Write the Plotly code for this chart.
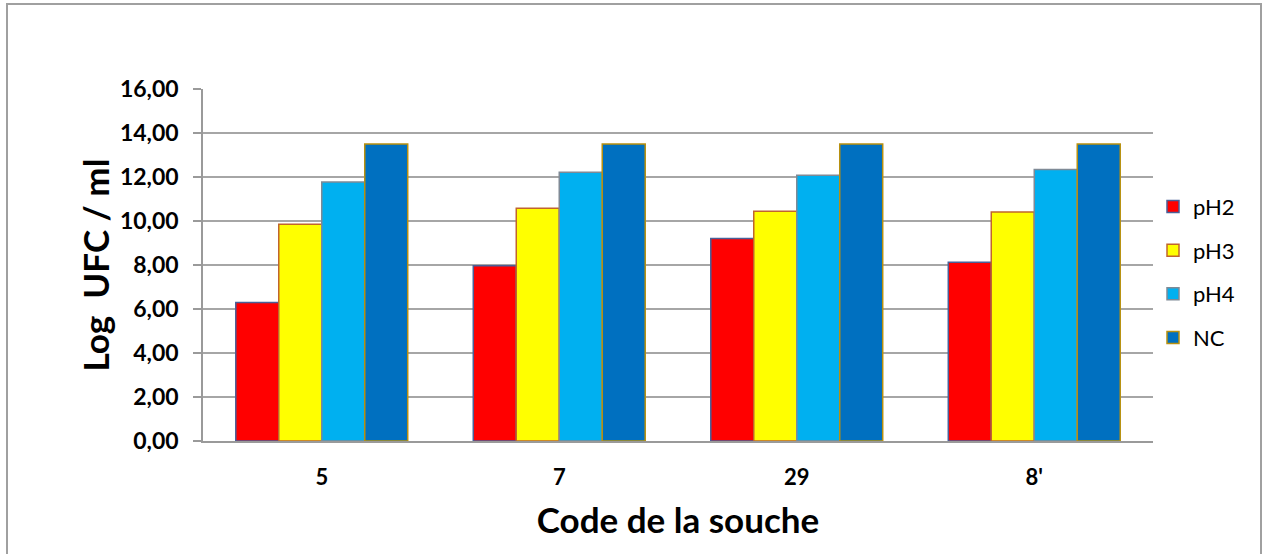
import plotly.graph_objects as go

# Strains and survival (log CFU/ml) at each pH condition
souches = ["5", "7", "29", "8'"]
ph2 = [6.29, 7.97, 9.21, 8.13]
ph3 = [9.85, 10.58, 10.44, 10.41]
ph4 = [11.77, 12.22, 12.08, 12.34]
nc = [13.50, 13.50, 13.50, 13.50]
y_ticks = [0, 2, 4, 6, 8, 10, 12, 14, 16]

series = [
    ("pH2", ph2, "#FF0000", "#4A5F97"),
    ("pH3", ph3, "#FFFF00", "#C0652D"),
    ("pH4", ph4, "#00B0F0", "#7F8A96"),
    ("NC", nc, "#0070C0", "#B8900F"),
]

W, H = 1263, 554
L, R, T, B = 203, 110, 89, 113

fig = go.Figure()
for i, (name, vals, fill, edge) in enumerate(series):
    fig.add_trace(go.Bar(
        name=name, x=souches, y=vals,
        marker=dict(color=fill, line=dict(color=edge, width=1.5)),
        legendgroup=f"g{i}",
    ))

font_main = "Lato, 'Open Sans', Arial, sans-serif"

fig.update_layout(
    width=W, height=H,
    margin=dict(l=L, r=R, t=T, b=B, autoexpand=False),
    paper_bgcolor="white", plot_bgcolor="white",
    barmode="group", bargap=0.276, bargroupgap=0,
    separators=", ",
    font=dict(family=font_main, color="black"),
    showlegend=True,
    legend=dict(
        x=1.0, xanchor="left", y=0.725, yanchor="top",
        font=dict(size=22, family=font_main, color="black"),
        tracegroupgap=12, itemwidth=30,
        bgcolor="rgba(0,0,0,0)",
    ),
    xaxis=dict(
        showline=True, linecolor="#9A9A9A", linewidth=1.5,
        tickfont=dict(size=22, family=font_main, color="black", weight="bold"),
        ticks="", ticklabelstandoff=16,
        title=dict(text="<b>Code de la souche</b>", font=dict(size=35, family=font_main), standoff=19),
    ),
    yaxis=dict(
        range=[0, 16], tickvals=y_ticks, tickformat=".2f",
        showgrid=True, gridcolor="#A6A6A6", gridwidth=1.5,
        showline=True, linecolor="#9A9A9A", linewidth=1.5,
        ticks="outside", ticklen=8, tickcolor="#9A9A9A", tickwidth=1.5,
        tickfont=dict(size=23, family=font_main, color="black", weight="bold"),
        ticklabelstandoff=10, zeroline=False,
        title=dict(text="<b>Log  UFC / ml</b>", font=dict(size=35, family=font_main), standoff=0),
    ),
)

# Outer chart frame (bottom edge runs past the page)
pw, ph = W - L - R, H - T - B
fig.add_shape(
    type="rect", xref="paper", yref="paper", layer="below",
    x0=(7 - L) / pw, x1=(1261 - L) / pw,
    y0=((H - B) - 560) / ph, y1=((H - B) - 4) / ph,
    line=dict(color="#A0A0A0", width=2), fillcolor="rgba(0,0,0,0)",
)

fig.write_html("out.html")
